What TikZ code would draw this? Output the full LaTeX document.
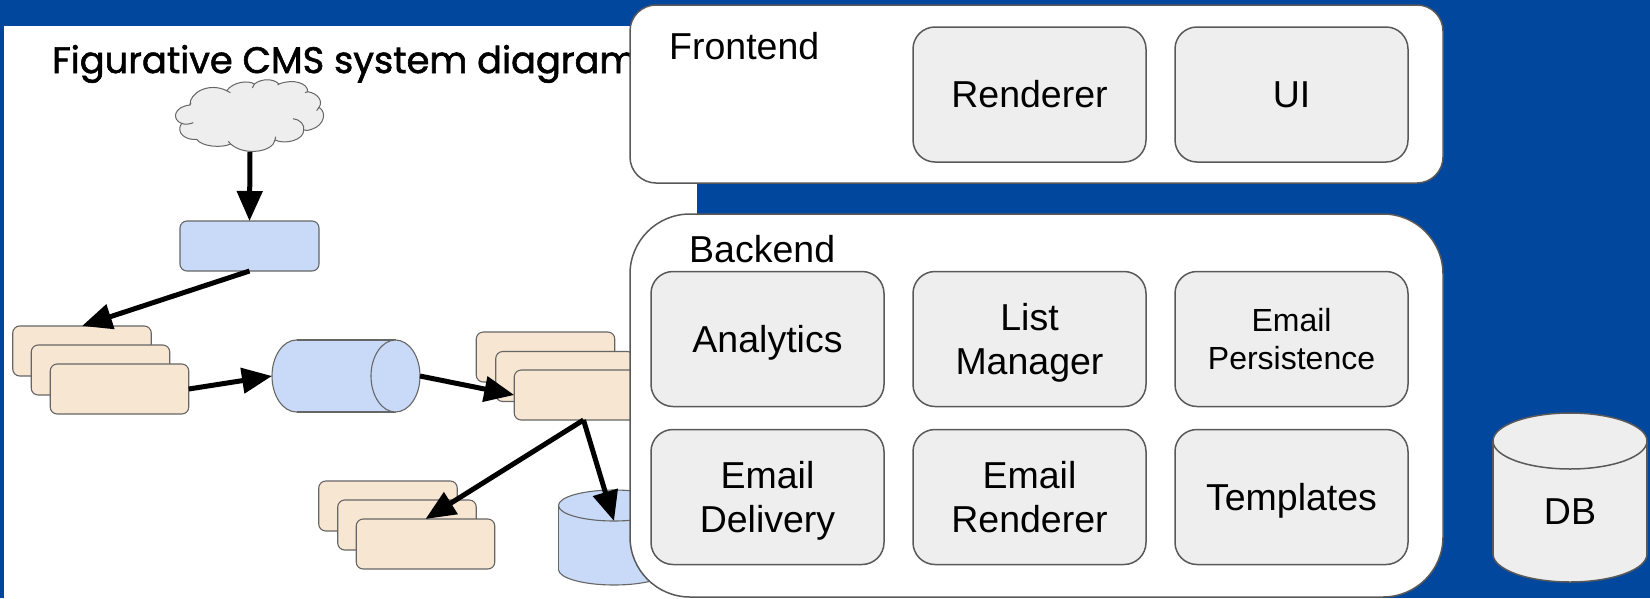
\documentclass[tikz,border=0pt]{standalone}
\usepackage{fontspec}
\setmainfont{Liberation Sans}
\newfontfamily\titlefont[FakeBold=1.6]{Poppins}
\usetikzlibrary{arrows.meta}
\definecolor{bgblue}{HTML}{01479D}
\definecolor{edge}{HTML}{595959}
\definecolor{thin}{HTML}{666666}
\definecolor{greyfill}{HTML}{EEEEEE}
\definecolor{bluefill}{HTML}{C9DAF8}
\definecolor{orangefill}{HTML}{F7E6D1}
\newcommand{\bigtxt}{\fontsize{37.5}{44}\selectfont}
\newcommand{\midtxt}{\fontsize{32}{38}\selectfont}
\newcommand{\dn}[1]{\smash{#1}\rule{0pt}{.716em}}
% vertical drum: cx, top-ellipse cy, bottom-ellipse cy, rx, ry, fill, width, colour
\newcommand{\drumV}[8]{%
  \draw[draw=#8,line width=#7,fill=#6] (#1,#3) ellipse [x radius=#4pt,y radius=#5pt];
  \fill[#6] (#1-#4,#2) rectangle (#1+#4,#3);
  \draw[draw=#8,line width=#7] (#1-#4,#2) -- (#1-#4,#3) (#1+#4,#2) -- (#1+#4,#3);
  \draw[draw=#8,line width=#7,fill=#6] (#1,#2) ellipse [x radius=#4pt,y radius=#5pt];}
% horizontal drum: cy, left-ellipse cx, right-ellipse cx, rx, ry, fill, width, colour
\newcommand{\drumH}[8]{%
  \draw[draw=#8,line width=#7,fill=#6] (#2,#1) ellipse [x radius=#4pt,y radius=#5pt];
  \fill[#6] (#2,#1-#5) rectangle (#3,#1+#5);
  \draw[draw=#8,line width=#7] (#2,#1-#5) -- (#3,#1-#5) (#2,#1+#5) -- (#3,#1+#5);
  \draw[draw=#8,line width=#7,fill=#6] (#3,#1) ellipse [x radius=#4pt,y radius=#5pt];}
\tikzset{
  x=1pt,y=-1pt,
  panel/.style={draw=edge,line width=1.5pt,fill=white},
  module/.style={draw=edge,line width=1.5pt,fill=greyfill,rounded corners=22pt,minimum width=233pt,minimum height=135pt,inner sep=0pt,outer sep=0pt,align=center,font=\bigtxt},
  thumb/.style={draw=thin,line width=1.1pt,rounded corners=7pt,inner sep=0pt,outer sep=0pt},
  tan/.style={thumb,fill=orangefill,minimum width=138.5pt,minimum height=50pt},
  gate/.style={thumb,fill=bluefill,minimum width=139pt,minimum height=50pt},
  label/.style={anchor=base west,inner sep=0pt,font=\bigtxt},
  flow/.style={draw=black,line width=5pt,-{Triangle[length=30pt,width=25pt]}},
  anchorbox/.style={inner sep=0pt,outer sep=0pt},
}
\begin{document}
\begin{tikzpicture}
\useasboundingbox (0,0) rectangle (1650,598);
\fill[bgblue] (0,0) rectangle (1650,598);
\fill[white] (4,26) rectangle (697,598);
\node[anchor=base west,inner sep=0pt,font=\titlefont\fontsize{36.8}{40}\selectfont] (title) at (52,73) {Figurative CMS system diagram};
% cloud
\begin{scope}[shift={(165,70)},x=0.3333pt,y=-0.3333pt,draw=thin,line width=1pt]
\path[draw,fill=greyfill] (75,105)
  .. controls (72,70) and (130,35) .. (185,62)
  .. controls (205,35) and (250,30) .. (268,42)
  .. controls (290,25) and (325,25) .. (342,42)
  .. controls (385,25) and (430,40) .. (428,65)
  .. controls (460,70) and (475,95) .. (462,112)
  .. controls (485,125) and (480,165) .. (440,178)
  .. controls (430,182) and (425,182) .. (416,180)
  .. controls (418,210) and (360,225) .. (330,210)
  .. controls (325,245) and (240,260) .. (197,222)
  .. controls (170,235) and (110,230) .. (95,208)
  .. controls (65,212) and (30,190) .. (50,160)
  .. controls (20,150) and (25,110) .. (75,105) -- cycle;
\draw (384,146) .. controls (405,148) and (420,165) .. (416,180);
\draw (50,160) .. controls (60,165) and (75,162) .. (85,158);
\draw (75,105) -- (78,98);
\draw (185,62) -- (196,68);
\draw (268,42) -- (262,54);
\draw (342,42) -- (338,45);
\draw (428,65) -- (420,68);
\draw (462,112) -- (455,122);
\draw (197,222) -- (190,214);
\draw (330,210) -- (332,200);
\end{scope}
\node[anchorbox,minimum width=150pt,minimum height=72pt] (cloud) at (250,116) {};
\node[gate] (gw) at (249.5,246) {};
% stack 1
\node[tan] (s1a) at (82,351) {};
\node[tan] (s1b) at (100.5,370) {};
\node[tan] (s1c) at (119.5,389) {};
% queue
\drumH{376}{296.5}{395.5}{24.5}{36}{bluefill}{1.1pt}{thin}
\node[anchorbox,minimum width=148pt,minimum height=72pt] (queue) at (346,376) {};
% stack 2
\node[tan] (s2a) at (545.5,357) {};
\node[tan] (s2b) at (565,376.5) {};
\node[tan] (s2c) at (583.5,395) {};
% stack 3
\node[tan] (s3a) at (388,506) {};
\node[tan] (s3b) at (407,525) {};
\node[tan] (s3c) at (425.5,544) {};
% blue datastore
\drumV{614}{505.5}{569.5}{55.5}{15.5}{bluefill}{1.1pt}{thin}
\coordinate (storetop) at (614,521);
% connectors
\draw[flow] (cloud.south) -- (gw.north);
\draw[flow] (gw.south) -- (s1a.north);
\draw[flow] (s1c.east) -- (queue.west);
\draw[flow] (queue.east) -- (s2c.west);
\draw[flow] (s2c.south) -- (s3c.north);
\draw[flow] (s2c.south) -- (storetop);
% panels
\draw[panel,rounded corners=26pt] (630,5) rectangle (1443,183);
\draw[panel,rounded corners=60pt] (630,214) rectangle (1443,597);
\node[label] (front) at (669,59) {Frontend};
\node[label] (back) at (689,262) {Backend};
\node[module] (renderer) at (1029.5,94.5) {Renderer};
\node[module] (ui) at (1291.5,94.5) {UI};
\node[module] (analytics) at (767.5,339) {\dn{Analytics}};
\node[module] (list) at (1029.5,339) {List\\\dn{Manager}};
\node[module,font=\midtxt] (persist) at (1291.5,339) {Email\\\dn{Persistence}};
\node[module] (delivery) at (767.5,497) {Email\\\dn{Delivery}};
\node[module] (emailr) at (1029.5,497) {Email\\Renderer};
\node[module] (templates) at (1291.5,497) {\dn{Templates}};
% DB
\drumV{1570}{441}{554}{77}{28}{greyfill}{1.5pt}{edge}
\node[inner sep=0pt,font=\bigtxt] (db) at (1570,512) {DB};
\end{tikzpicture}
\end{document}
